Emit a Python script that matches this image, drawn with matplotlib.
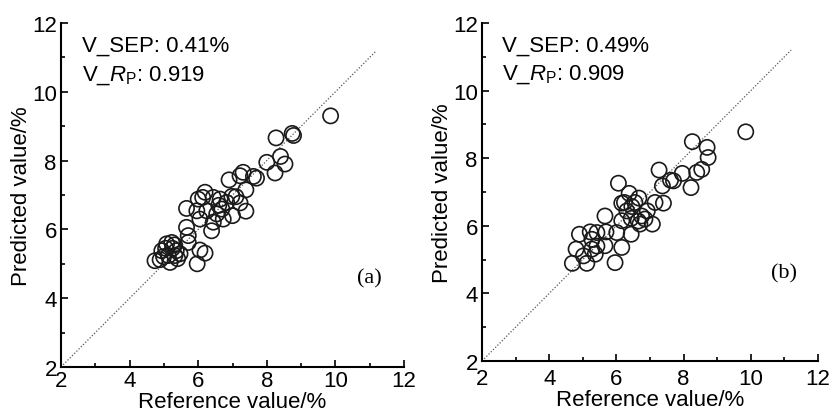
import matplotlib.pyplot as plt
from matplotlib.ticker import MultipleLocator

plt.rcParams['font.family'] = ['Liberation Sans', 'DejaVu Sans']
plt.rcParams['mathtext.fontset'] = 'custom'
plt.rcParams['mathtext.rm'] = 'Liberation Sans'
plt.rcParams['mathtext.it'] = 'Liberation Sans:italic'

# panel (a)
ref_a = [9.86, 8.74, 8.78, 8.27, 8.00, 8.40, 8.53, 8.24, 7.70, 7.61, 7.31, 7.22,
         6.90, 7.39, 7.39, 6.98, 7.22, 7.00, 6.64, 6.44, 6.20, 6.13, 6.00, 5.96,
         6.25, 6.69, 6.73, 6.44, 6.39, 6.05, 5.66, 5.66, 5.71, 5.71, 6.05, 6.20,
         5.97, 4.74, 4.94, 5.08, 5.23, 5.31, 5.18, 5.32, 5.47, 5.13, 4.99, 5.36,
         4.89, 6.83, 6.54, 7.10, 6.60, 5.40, 5.05, 5.25]
pred_a = [9.30, 8.79, 8.73, 8.66, 7.95, 8.12, 7.90, 7.64, 7.49, 7.54, 7.66, 7.56,
          7.44, 7.15, 6.53, 6.96, 6.77, 6.40, 6.88, 6.93, 7.08, 6.93, 6.88, 6.54,
          6.54, 6.59, 6.30, 6.21, 5.96, 6.30, 6.61, 6.06, 5.82, 5.62, 5.40, 5.31,
          5.00, 5.09, 5.38, 5.58, 5.62, 5.55, 5.04, 5.24, 5.29, 5.24, 5.21, 5.38,
          5.12, 6.78, 6.45, 6.95, 6.70, 5.15, 5.45, 5.45]

# panel (b)
ref_b = [9.85, 8.26, 8.70, 8.73, 7.27, 7.61, 7.96, 8.39, 8.54, 8.22, 7.37, 6.06,
         6.38, 6.67, 6.16, 6.46, 6.92, 7.15, 7.40, 7.07, 6.75, 6.65, 6.44, 6.44,
         6.16, 6.01, 6.16, 5.96, 5.66, 5.69, 5.66, 5.27, 5.22, 4.90, 4.80, 5.02,
         5.12, 4.69, 5.37, 5.42, 5.27, 6.85, 6.55, 6.24, 6.31, 7.70, 5.42, 6.70]
pred_b = [8.78, 8.49, 8.32, 8.02, 7.65, 7.35, 7.55, 7.58, 7.67, 7.13, 7.18, 7.26,
          6.96, 6.82, 6.67, 6.57, 6.44, 6.69, 6.67, 6.05, 6.29, 6.14, 6.22, 5.75,
          6.15, 5.80, 5.36, 4.91, 6.29, 5.82, 5.41, 5.60, 5.82, 5.75, 5.31, 5.11,
          4.89, 4.89, 5.16, 5.40, 5.31, 6.20, 6.69, 6.69, 6.44, 7.33, 5.80, 6.05]

# data, labels, axes box in pixels, tick pad
panels = [
    (ref_a, pred_a, '0.41%', '0.919', '(a)', [61, 24, 404, 368], 2),
    (ref_b, pred_b, '0.49%', '0.909', '(b)', [482, 24, 818, 362], 5),
]

W, H = 831, 414
fig = plt.figure(figsize=(W / 100, H / 100), dpi=100)

for ref, pred, sep, rp, tag, (x0, y0, x1, y1), xpad in panels:
    ax = fig.add_axes([x0 / W, 1 - y1 / H, (x1 - x0) / W, (y1 - y0) / H])
    ax.plot([2, 11.2], [2, 11.2], color='#555555', linestyle=(0, (1, 1.5)), lw=0.9)
    ax.scatter(ref, pred, s=120, facecolors='none', edgecolors='#1a1a1a',
               linewidths=1.2, zorder=3)
    ax.set_xlim(2, 12)
    ax.set_ylim(2, 12)
    ax.xaxis.set_major_locator(MultipleLocator(2))
    ax.yaxis.set_major_locator(MultipleLocator(2))
    ax.xaxis.set_minor_locator(MultipleLocator(1))
    ax.yaxis.set_minor_locator(MultipleLocator(1))
    ax.tick_params(which='both', direction='in', labelsize=16, width=1.2)
    ax.tick_params(axis='x', pad=xpad)
    ax.tick_params(axis='y', pad=3)
    ax.tick_params(which='major', length=5)
    ax.tick_params(which='minor', length=3)
    for s in ['top', 'right']:
        ax.spines[s].set_visible(False)
    for s in ['left', 'bottom']:
        ax.spines[s].set_linewidth(1.5)
    ax.set_xlabel('Reference value/%', fontsize=16, labelpad=0)
    ax.set_ylabel('Predicted value/%', fontsize=16, labelpad=0)
    ax.text(2.6, 11.35, 'V_SEP: ' + sep, fontsize=16, va='center')
    ax.text(2.6, 10.5, 'V_$\\mathit{R}_\\mathrm{P}$: ' + rp, fontsize=16, va='center')
    ax.text(11.0, 4.6, tag, fontsize=16, family='Liberation Serif',
            ha='center', va='center')

fig.savefig('out.png', dpi=100)
